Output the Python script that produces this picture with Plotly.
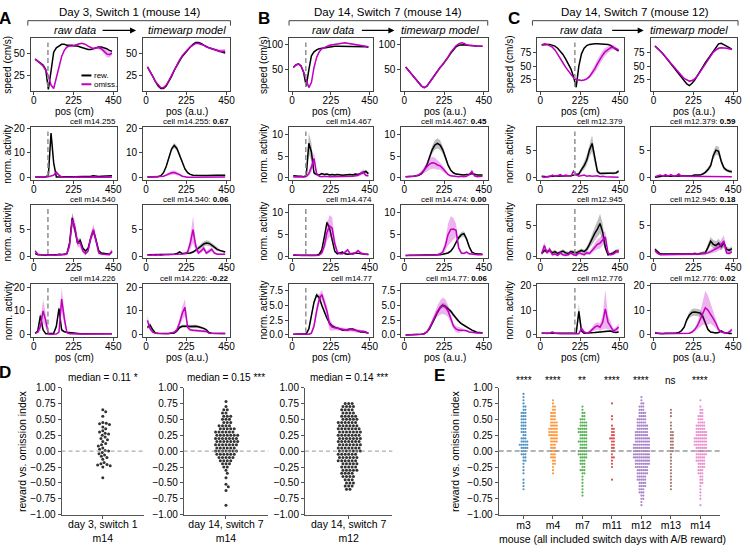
import plotly.graph_objects as go

W, H = 750, 552
FONT = "Liberation Sans, Arial, sans-serif"
REW_COL = "#000000"
OM_COL = "#c000c0"
REW_FILL = "rgba(110,110,110,0.45)"
OM_FILL = "rgba(200,0,200,0.30)"
AX_COL = "#444444"

# sample positions along the track (cm / a.u.)
pos = [7.5, 22.5, 37.5, 52.5, 67.5, 82.5, 97.5, 112.5, 127.5, 142.5,
       157.5, 172.5, 187.5, 202.5, 217.5, 232.5, 247.5, 262.5, 277.5, 292.5,
       307.5, 322.5, 337.5, 352.5, 367.5, 382.5, 397.5, 412.5, 427.5, 442.5]

# ---------------- panel A (day 3, switch 1, mouse 14) ----------------
A_spd_raw_rew = [44, 42, 40, 37, 32, 9, 30, 52, 57, 59,
                 61, 61, 60, 60, 60, 59, 59, 58, 57, 56,
                 55, 55, 56, 57, 58, 58, 57, 56, 54, 53]
A_spd_raw_om = [44, 42, 39, 36, 31, 24, 14, 10, 22, 36,
                47, 54, 58, 59, 59, 60, 61, 62, 62, 61,
                59, 57, 56, 57, 57, 56, 53, 50, 49, 51]
A_spd_raw_om_sem = [0.5, 0.5, 0.5, 0.5, 0.5, 0.6, 0.8, 1, 1, 1,
                    1, 0.8, 0.8, 0.8, 0.8, 0.8, 0.8, 0.8, 0.8, 0.8,
                    1, 1, 1.2, 1.5, 2, 2.5, 3.5, 4, 3.5, 2.5]
A_spd_tw_rew = [35, 30, 24, 18, 13, 10, 10, 13, 18, 24,
                31, 37, 42, 47, 51, 55, 58, 61, 63, 63,
                62, 60, 58, 57, 56, 55, 54, 53, 52, 51]
A_spd_tw_om = [35, 30, 24, 18, 14, 11, 11, 14, 19, 25,
               32, 38, 43, 48, 52, 55, 58, 60, 62, 62,
               61, 60, 58, 57, 56, 55, 54, 53, 53, 53]
A_spd_tw_om_sem = [0.5, 0.5, 0.5, 0.5, 0.5, 0.5, 0.5, 0.5, 0.5, 0.5,
                   0.5, 0.5, 0.5, 0.5, 0.5, 0.5, 0.5, 0.5, 0.5, 0.5,
                   0.6, 0.6, 0.7, 0.8, 1.0, 1.2, 1.5, 2.0, 2.5, 2.5]

A_r2_raw_rew = [0.3, 0.2, 0.3, 0.3, 0.3, 1.0, 18.0, 6.0, 0.3, 0.2,
                0.3, 0.4, 0.3, 0.3, 0.4, 0.4, 0.4, 0.5, 0.5, 0.4,
                0.5, 0.6, 0.8, 0.6, 0.5, 0.6, 0.7, 0.6, 0.7, 0.8]
A_r2_raw_om = [0.4, 0.3, 0.4, 0.3, 0.3, 0.4, 0.6, 1.0, 2.2, 1.0,
               0.3, 0.2, 0.2, 0.3, 0.2, 0.3, 0.2, 0.2, 0.3, 0.2,
               0.2, 0.3, 0.2, 0.3, 0.2, 0.3, 0.2, 0.3, 0.2, 0.3]
A_r2_raw_om_sem = [0.1, 0.1, 0.1, 0.1, 0.1, 0.1, 0.2, 0.4, 0.6, 0.4,
                   0.1, 0.1, 0.1, 0.1, 0.1, 0.1, 0.1, 0.1, 0.1, 0.1,
                   0.1, 0.1, 0.1, 0.1, 0.1, 0.1, 0.1, 0.1, 0.1, 0.1]
A_r2_tw_rew = [0.3, 0.3, 0.3, 0.3, 0.4, 0.8, 2.0, 4.5, 8.0, 11.5,
               13.0, 11.8, 9.0, 6.0, 3.5, 2.0, 1.3, 1.0, 0.9, 0.9,
               0.9, 0.9, 0.9, 1.0, 1.0, 1.0, 1.0, 1.0, 1.0, 1.0]
A_r2_tw_rew_sem = [0.1, 0.1, 0.1, 0.1, 0.1, 0.2, 0.4, 0.6, 0.8, 0.9,
                   1.0, 1.0, 0.9, 0.7, 0.5, 0.3, 0.2, 0.2, 0.2, 0.2,
                   0.2, 0.2, 0.2, 0.2, 0.2, 0.2, 0.2, 0.2, 0.2, 0.2]
A_r2_tw_om = [0.3, 0.3, 0.3, 0.3, 0.3, 0.4, 0.6, 1.0, 1.6, 2.0,
              2.1, 1.8, 1.2, 0.6, 0.3, 0.2, 0.2, 0.2, 0.3, 0.2,
              0.2, 0.3, 0.3, 0.4, 0.3, 0.3, 0.3, 0.3, 0.3, 0.3]
A_r2_tw_om_sem = [0.1, 0.1, 0.1, 0.1, 0.1, 0.2, 0.3, 0.5, 0.7, 0.8,
                  0.8, 0.7, 0.5, 0.3, 0.1, 0.1, 0.1, 0.1, 0.1, 0.1,
                  0.1, 0.1, 0.1, 0.1, 0.1, 0.1, 0.1, 0.1, 0.1, 0.1]

A_r3_raw_rew = [0.5, 0.3, 0.3, 0.2, 0.2, 0.3, 0.3, 0.3, 0.3, 0.2,
                0.3, 0.4, 0.5, 2.5, 7.2, 5.0, 2.5, 3.0, 1.5, 1.0,
                1.5, 3.5, 4.8, 3.0, 1.0, 0.6, 0.5, 0.5, 0.4, 0.8]
A_r3_raw_rew_sem = [0.1, 0.1, 0.1, 0.1, 0.1, 0.1, 0.1, 0.1, 0.1, 0.1,
                    0.1, 0.1, 0.2, 0.6, 1.0, 0.8, 0.5, 0.5, 0.3, 0.2,
                    0.3, 0.6, 0.6, 0.5, 0.2, 0.1, 0.1, 0.1, 0.1, 0.2]
A_r3_raw_om = [1.0, 0.4, 0.3, 0.3, 0.2, 0.3, 0.2, 0.3, 0.2, 0.4,
               0.3, 0.3, 0.5, 2.0, 6.8, 5.5, 2.5, 2.5, 1.0, 0.5,
               1.0, 3.5, 5.0, 3.0, 0.6, 0.4, 0.4, 0.3, 0.3, 1.0]
A_r3_raw_om_sem = [0.4, 0.2, 0.1, 0.1, 0.1, 0.1, 0.1, 0.1, 0.1, 0.2,
                   0.1, 0.1, 0.3, 0.8, 1.2, 1.2, 0.8, 0.8, 0.4, 0.3,
                   0.4, 0.9, 1.0, 0.8, 0.3, 0.2, 0.2, 0.1, 0.2, 0.4]
A_r3_tw_rew = [0.3, 0.3, 0.3, 0.3, 0.3, 0.3, 0.3, 0.4, 0.3, 0.4,
               0.4, 0.5, 0.8, 0.5, 0.5, 0.5, 0.6, 0.8, 1.1, 1.5,
               1.9, 2.3, 2.5, 2.4, 2.1, 1.7, 1.3, 1.1, 0.9, 0.8]
A_r3_tw_rew_sem = [0.1, 0.1, 0.1, 0.1, 0.1, 0.1, 0.1, 0.1, 0.1, 0.1,
                   0.1, 0.1, 0.2, 0.1, 0.1, 0.1, 0.2, 0.2, 0.3, 0.4,
                   0.5, 0.5, 0.5, 0.5, 0.4, 0.4, 0.3, 0.2, 0.2, 0.2]
A_r3_tw_om = [0.3, 0.2, 0.3, 0.2, 0.3, 0.2, 0.3, 0.3, 0.3, 0.3,
              0.4, 0.4, 0.4, 0.4, 0.5, 0.8, 2.5, 5.0, 2.0, 0.6,
              1.0, 1.5, 0.6, 1.0, 1.3, 0.6, 0.4, 0.4, 0.4, 0.4]
A_r3_tw_om_sem = [0.1, 0.1, 0.1, 0.1, 0.1, 0.1, 0.1, 0.1, 0.1, 0.1,
                  0.1, 0.1, 0.1, 0.1, 0.2, 0.4, 1.2, 2.5, 1.0, 0.3,
                  0.4, 0.5, 0.3, 0.4, 0.4, 0.2, 0.1, 0.1, 0.1, 0.1]

A_r4_raw_rew = [0.5, 1.5, 8.0, 2.0, 0.3, 0.3, 0.3, 0.5, 3.5, 11.0,
                2.0, 1.2, 1.0, 0.8, 0.6, 0.4, 0.4, 0.3, 0.3, 0.3,
                0.3, 0.3, 0.3, 0.3, 0.3, 0.3, 0.3, 0.3, 0.3, 0.3]
A_r4_raw_rew_sem = [0.1, 0.3, 1.5, 0.8, 0.1, 0.1, 0.1, 0.2, 1.0, 1.5,
                    0.8, 0.3, 0.2, 0.2, 0.1, 0.1, 0.1, 0.1, 0.1, 0.1,
                    0.1, 0.1, 0.1, 0.1, 0.1, 0.1, 0.1, 0.1, 0.1, 0.1]
A_r4_raw_om = [0.5, 1.0, 3.5, 10.0, 6.0, 0.2, 0.1, 0.1, 0.2, 1.0,
               15.0, 7.0, 0.8, 0.3, 0.2, 0.2, 0.2, 0.2, 0.2, 0.2,
               0.2, 0.2, 0.2, 0.2, 0.2, 0.2, 0.2, 0.2, 0.2, 0.3]
A_r4_raw_om_sem = [0.1, 0.4, 2.0, 5.0, 3.0, 0.1, 0.1, 0.1, 0.1, 0.5,
                   5.0, 3.0, 0.4, 0.1, 0.1, 0.1, 0.1, 0.1, 0.1, 0.1,
                   0.1, 0.1, 0.1, 0.1, 0.1, 0.1, 0.1, 0.1, 0.1, 0.1]
A_r4_tw_rew = [3.0, 4.0, 2.0, 0.6, 0.5, 0.4, 0.4, 0.4, 0.4, 0.5,
               0.6, 1.5, 3.0, 3.5, 3.6, 3.5, 3.4, 3.6, 3.5, 3.3,
               3.0, 2.6, 2.0, 0.8, 0.5, 0.4, 0.4, 0.4, 0.4, 0.4]
A_r4_tw_rew_sem = [0.8, 1.0, 0.6, 0.2, 0.1, 0.1, 0.1, 0.1, 0.1, 0.2,
                   0.2, 0.3, 0.5, 0.6, 0.7, 0.7, 0.7, 0.7, 0.7, 0.6,
                   0.5, 0.4, 0.3, 0.2, 0.1, 0.1, 0.1, 0.1, 0.1, 0.1]
A_r4_tw_om = [6.0, 2.5, 1.0, 0.5, 0.4, 0.3, 0.3, 0.3, 0.4, 0.6,
              1.0, 2.0, 5.0, 9.0, 11.5, 3.0, 2.0, 1.8, 1.6, 1.5,
              1.5, 1.4, 1.3, 0.5, 0.4, 0.4, 0.4, 0.4, 0.4, 0.4]
A_r4_tw_om_sem = [2.0, 1.0, 0.4, 0.2, 0.1, 0.1, 0.1, 0.1, 0.2, 0.3,
                  0.5, 1.0, 1.8, 2.8, 3.5, 1.0, 0.6, 0.5, 0.5, 0.5,
                  0.5, 0.5, 0.5, 0.2, 0.1, 0.1, 0.1, 0.1, 0.1, 0.1]

# ---------------- panel B (day 14, switch 7, mouse 14) ----------------
B_spd_raw_rew = [55, 60, 62, 58, 45, 18, 50, 78, 86, 90,
                 92, 93, 94, 95, 96, 96, 97, 97, 97, 97,
                 97, 97, 97, 97, 97, 96, 96, 96, 96, 95]
B_spd_raw_om = [55, 60, 62, 58, 46, 28, 15, 25, 55, 75,
                86, 92, 95, 97, 99, 100, 101, 102, 103, 104,
                104, 103, 102, 101, 100, 99, 98, 97, 96, 96]
B_spd_raw_om_sem = [1, 1, 1, 1, 1, 1.5, 1.5, 2, 2.5, 2.5,
                    2, 1.5, 1, 1, 1, 1, 1, 1, 1, 1,
                    1, 1, 1, 1, 1, 1, 1, 1, 1, 1]
B_spd_tw_rew = [56, 50, 44, 38, 31, 24, 18, 15, 18, 25,
                33, 41, 48, 55, 61, 67, 75, 83, 90, 96,
                99, 100, 100, 99, 99, 98, 98, 97, 97, 97]
B_spd_tw_om = [56, 50, 44, 38, 31, 24, 18, 15, 18, 25,
               33, 41, 48, 55, 61, 68, 76, 85, 92, 98,
               102, 104, 103, 100, 99, 98, 97, 97, 97, 97]

B_r2_raw_rew = [0.5, 0.4, 0.4, 0.4, 0.3, 0.5, 8.0, 6.0, 1.2, 0.8,
                0.7, 1.0, 0.8, 0.9, 0.7, 0.8, 0.7, 0.8, 0.7, 0.6,
                0.7, 0.8, 0.8, 0.7, 0.9, 0.8, 1.0, 1.2, 1.5, 1.0]
B_r2_raw_rew_sem = [0.1, 0.1, 0.1, 0.1, 0.1, 0.3, 2.5, 2.0, 0.5, 0.2,
                    0.2, 0.2, 0.2, 0.2, 0.2, 0.2, 0.2, 0.2, 0.2, 0.2,
                    0.2, 0.2, 0.2, 0.2, 0.2, 0.2, 0.3, 0.3, 0.4, 0.3]
B_r2_raw_om = [0.2, 0.3, 0.2, 0.3, 0.2, 0.3, 1.0, 2.5, 4.5, 1.0,
               0.4, 0.3, 0.4, 0.3, 0.3, 0.3, 0.3, 0.4, 0.3, 0.3,
               0.3, 0.3, 0.3, 0.4, 0.5, 0.6, 1.0, 1.4, 0.6, 0.5]
B_r2_raw_om_sem = [0.1, 0.1, 0.1, 0.1, 0.1, 0.1, 0.5, 1.2, 1.5, 0.4,
                   0.1, 0.1, 0.1, 0.1, 0.1, 0.1, 0.1, 0.1, 0.1, 0.1,
                   0.1, 0.1, 0.1, 0.1, 0.2, 0.3, 0.5, 0.6, 0.3, 0.2]
B_r2_tw_rew = [0.3, 0.3, 0.4, 0.4, 0.5, 0.6, 1.0, 1.8, 3.0, 4.8,
               6.5, 7.6, 8.0, 7.6, 6.5, 4.8, 3.0, 1.8, 1.2, 0.9,
               0.8, 0.7, 0.7, 0.8, 0.8, 1.0, 0.8, 0.7, 0.7, 0.7]
B_r2_tw_rew_sem = [0.1, 0.1, 0.1, 0.1, 0.1, 0.1, 0.2, 0.3, 0.5, 0.7,
                   0.9, 1.1, 1.2, 1.1, 0.9, 0.7, 0.5, 0.3, 0.2, 0.2,
                   0.1, 0.1, 0.1, 0.1, 0.1, 0.2, 0.1, 0.1, 0.1, 0.1]
B_r2_tw_om = [0.3, 0.3, 0.4, 0.4, 0.5, 0.7, 1.2, 1.8, 2.5, 3.2,
              3.5, 3.4, 3.0, 2.8, 2.2, 1.5, 0.8, 0.5, 0.4, 0.3,
              0.3, 0.4, 0.3, 0.4, 0.8, 1.5, 0.5, 0.3, 0.3, 0.4]
B_r2_tw_om_sem = [0.1, 0.1, 0.1, 0.1, 0.2, 0.3, 0.5, 0.7, 1.0, 1.3,
                  1.4, 1.3, 1.1, 0.9, 0.7, 0.5, 0.3, 0.2, 0.1, 0.1,
                  0.1, 0.1, 0.1, 0.1, 0.3, 0.5, 0.2, 0.1, 0.1, 0.1]

B_r3_raw_rew = [0.3, 0.3, 0.2, 0.2, 0.2, 0.2, 0.2, 0.2, 0.2, 0.3,
                0.5, 1.5, 4.5, 7.8, 6.5, 3.5, 1.2, 0.6, 0.8, 1.0,
                0.6, 0.5, 0.6, 0.7, 0.8, 0.7, 0.6, 0.6, 0.5, 0.5]
B_r3_raw_rew_sem = [0.1, 0.1, 0.1, 0.1, 0.1, 0.1, 0.1, 0.1, 0.1, 0.1,
                    0.1, 0.3, 0.5, 0.6, 0.6, 0.5, 0.3, 0.1, 0.1, 0.2,
                    0.1, 0.1, 0.1, 0.1, 0.1, 0.1, 0.1, 0.1, 0.1, 0.1]
B_r3_raw_om = [0.4, 0.3, 0.3, 0.2, 0.2, 0.2, 0.2, 0.1, 0.2, 0.2,
               0.3, 0.8, 2.5, 5.5, 7.0, 6.5, 3.0, 1.0, 0.6, 0.6,
               1.0, 1.5, 0.6, 0.5, 0.8, 1.3, 0.8, 0.6, 0.5, 0.4]
B_r3_raw_om_sem = [0.1, 0.1, 0.1, 0.1, 0.1, 0.1, 0.1, 0.1, 0.1, 0.1,
                   0.1, 0.3, 1.0, 2.0, 2.5, 2.5, 1.2, 0.4, 0.2, 0.2,
                   0.3, 0.4, 0.2, 0.2, 0.3, 0.4, 0.3, 0.2, 0.2, 0.1]
B_r3_tw_rew = [0.2, 0.3, 0.3, 0.3, 0.3, 0.3, 0.3, 0.3, 0.3, 0.3,
               0.3, 0.3, 0.3, 0.4, 0.5, 0.6, 0.8, 1.2, 2.0, 3.2,
               4.3, 5.0, 5.2, 4.0, 2.2, 1.0, 0.7, 0.6, 0.6, 0.5]
B_r3_tw_rew_sem = [0.1, 0.1, 0.1, 0.1, 0.1, 0.1, 0.1, 0.1, 0.1, 0.1,
                   0.1, 0.1, 0.1, 0.1, 0.1, 0.1, 0.2, 0.2, 0.3, 0.4,
                   0.5, 0.6, 0.6, 0.5, 0.3, 0.2, 0.1, 0.1, 0.1, 0.1]
B_r3_tw_om = [0.2, 0.2, 0.2, 0.2, 0.2, 0.2, 0.2, 0.3, 0.3, 0.3,
              0.3, 0.3, 0.4, 0.6, 1.0, 2.5, 5.0, 6.2, 6.3, 6.0,
              2.0, 0.8, 0.7, 1.0, 0.6, 0.5, 0.5, 0.4, 0.4, 0.4]
B_r3_tw_om_sem = [0.1, 0.1, 0.1, 0.1, 0.1, 0.1, 0.1, 0.1, 0.1, 0.1,
                  0.1, 0.1, 0.2, 0.3, 0.5, 1.2, 2.5, 3.0, 2.5, 1.5,
                  0.6, 0.3, 0.2, 0.3, 0.2, 0.1, 0.1, 0.1, 0.1, 0.1]

B_r4_raw_rew = [0.1, 0.1, 0.1, 0.1, 0.1, 0.2, 1.0, 3.0, 5.5, 6.7,
                6.3, 5.0, 3.8, 2.8, 2.0, 1.5, 1.3, 1.2, 1.0, 0.8,
                0.8, 0.9, 1.0, 1.0, 0.8, 0.6, 0.5, 0.5, 0.4, 0.3]
B_r4_raw_rew_sem = [0.05, 0.05, 0.05, 0.05, 0.05, 0.1, 0.2, 0.3, 0.4, 0.4,
                    0.4, 0.3, 0.3, 0.2, 0.2, 0.2, 0.1, 0.1, 0.1, 0.1,
                    0.1, 0.1, 0.1, 0.1, 0.1, 0.1, 0.1, 0.1, 0.1, 0.1]
B_r4_raw_om = [0.1, 0.1, 0.1, 0.1, 0.1, 0.1, 0.1, 0.3, 1.5, 4.0,
               6.0, 6.8, 5.5, 4.0, 1.8, 1.3, 1.2, 1.1, 1.0, 0.9,
               0.8, 0.8, 0.9, 0.8, 0.7, 0.6, 0.6, 0.6, 0.5, 0.2]
B_r4_raw_om_sem = [0.05, 0.05, 0.05, 0.05, 0.05, 0.05, 0.1, 0.2, 0.5, 0.7,
                   0.8, 0.8, 0.8, 0.9, 1.0, 0.6, 0.4, 0.3, 0.3, 0.3,
                   0.3, 0.3, 0.3, 0.3, 0.3, 0.3, 0.2, 0.2, 0.2, 0.1]
B_r4_tw_rew = [0.0, 0.0, 0.0, 0.0, 0.0, 0.1, 0.1, 0.2, 0.5, 1.0,
               1.8, 2.8, 3.8, 4.6, 5.0, 4.8, 4.4, 4.0, 3.4, 2.8,
               2.3, 1.9, 1.6, 1.3, 1.0, 0.8, 0.6, 0.4, 0.4, 0.3]
B_r4_tw_rew_sem = [0.02, 0.02, 0.02, 0.02, 0.02, 0.05, 0.05, 0.1, 0.1, 0.2,
                   0.2, 0.3, 0.3, 0.4, 0.4, 0.4, 0.4, 0.3, 0.3, 0.3,
                   0.2, 0.2, 0.2, 0.2, 0.1, 0.1, 0.1, 0.1, 0.1, 0.1]
B_r4_tw_om = [0.0, 0.0, 0.0, 0.0, 0.0, 0.1, 0.1, 0.2, 0.5, 1.2,
              2.2, 3.2, 4.0, 4.6, 4.9, 4.7, 4.0, 2.8, 1.5, 1.0,
              0.8, 0.8, 0.8, 0.7, 0.5, 0.4, 0.3, 0.3, 0.3, 0.3]
B_r4_tw_om_sem = [0.02, 0.02, 0.02, 0.02, 0.02, 0.05, 0.05, 0.1, 0.2, 0.3,
                  0.5, 0.6, 0.9, 1.2, 1.4, 1.3, 1.0, 0.7, 0.5, 0.5,
                  0.5, 0.3, 0.2, 0.2, 0.1, 0.1, 0.1, 0.1, 0.1, 0.1]

# ---------------- panel C (day 14, switch 7, mouse 12) ----------------
C_spd_raw_rew = [88, 89, 89, 89, 88, 86, 82, 77, 71, 63,
                 54, 45, 31, 12, 50, 72, 82, 87, 89, 90,
                 90, 90, 90, 90, 89, 89, 87, 83, 80, 77]
C_spd_raw_om = [88, 90, 89, 87, 84, 79, 72, 64, 56, 48,
                41, 34, 29, 26, 25, 24, 25, 27, 31, 37,
                45, 54, 63, 70, 76, 80, 83, 84, 82, 79]
C_spd_raw_om_sem = [1, 1, 1, 1, 1, 1, 1, 1, 1, 1,
                    1, 1, 1, 1, 1, 1, 1.5, 2, 3, 5,
                    7, 8, 8, 8, 7, 6, 5, 4, 3, 2]
C_spd_tw_rew = [86, 82, 77, 72, 66, 60, 54, 48, 42, 36,
                30, 24, 18, 15, 19, 25, 32, 40, 48, 56,
                63, 70, 78, 85, 90, 91, 89, 86, 83, 80]
C_spd_tw_om = [86, 82, 77, 72, 67, 61, 55, 49, 43, 38,
               33, 28, 25, 23, 24, 27, 32, 39, 47, 55,
               62, 69, 75, 79, 82, 83, 83, 82, 81, 80]
C_spd_tw_om_sem = [1, 1, 1, 1, 1, 1, 1, 1, 1, 1,
                   1, 1, 1, 1, 1, 1, 1, 1, 1, 1.2,
                   1.5, 1.5, 2, 2, 2, 2, 1.5, 1.5, 1.5, 1.5]

C_r2_raw_rew = [0.3, 0.2, 0.2, 0.3, 0.3, 0.3, 0.4, 0.3, 0.3, 0.4,
                0.4, 0.4, 0.5, 0.6, 0.7, 1.5, 2.2, 3.2, 5.0, 6.2,
                3.5, 1.2, 0.8, 0.8, 0.8, 0.9, 0.9, 0.8, 0.9, 1.2]
C_r2_raw_rew_sem = [0.1, 0.1, 0.1, 0.1, 0.1, 0.1, 0.1, 0.1, 0.1, 0.1,
                    0.1, 0.1, 0.1, 0.2, 0.3, 0.5, 0.7, 0.9, 1.2, 1.5,
                    1.0, 0.4, 0.2, 0.2, 0.2, 0.2, 0.2, 0.2, 0.2, 0.3]
C_r2_raw_om = [0.2, 0.1, 0.2, 0.2, 0.5, 0.3, 0.4, 0.6, 0.3, 0.5,
               0.4, 0.3, 1.2, 0.6, 0.3, 0.4, 0.5, 0.3, 0.4, 0.3,
               0.3, 0.4, 0.2, 0.3, 0.2, 0.2, 0.2, 0.2, 0.2, 0.1]
C_r2_tw_rew = [0.1, 0.2, 0.3, 0.3, 0.4, 0.3, 0.3, 0.3, 0.4, 0.3,
               0.4, 0.4, 0.4, 0.4, 0.4, 0.5, 0.5, 0.5, 0.7, 1.0,
               1.5, 2.2, 4.0, 5.0, 4.8, 3.0, 1.8, 1.4, 1.2, 1.1]
C_r2_tw_rew_sem = [0.1, 0.1, 0.1, 0.1, 0.1, 0.1, 0.1, 0.1, 0.1, 0.1,
                   0.1, 0.1, 0.1, 0.1, 0.1, 0.1, 0.1, 0.1, 0.2, 0.3,
                   0.4, 0.5, 0.7, 0.8, 0.8, 0.6, 0.4, 0.3, 0.3, 0.3]
C_r2_tw_om = [0.2, 0.3, 0.5, 0.3, 0.6, 0.3, 0.6, 0.3, 0.4, 0.7,
              0.3, 0.3, 0.3, 0.3, 0.3, 0.3, 0.3, 0.3, 0.3, 0.2,
              0.2, 0.2, 0.2, 0.2, 0.2, 0.2, 0.2, 0.2, 0.2, 0.2]

C_r3_raw_rew = [0.5, 1.0, 0.8, 1.0, 0.6, 0.8, 0.5, 0.7, 0.9, 0.6,
                0.5, 0.8, 0.7, 0.6, 0.8, 1.0, 0.8, 1.2, 2.0, 3.0,
                3.8, 4.5, 5.4, 4.0, 1.5, 0.3, 0.4, 0.6, 0.9, 0.8]
C_r3_raw_rew_sem = [0.3, 0.3, 0.3, 0.3, 0.3, 0.3, 0.3, 0.3, 0.3, 0.3,
                    0.3, 0.3, 0.3, 0.3, 0.3, 0.3, 0.3, 0.4, 0.6, 0.8,
                    1.0, 1.3, 1.6, 1.4, 0.6, 0.2, 0.2, 0.3, 0.3, 0.3]
C_r3_raw_om = [0.5, 1.8, 0.6, 1.2, 0.3, 0.4, 0.2, 0.6, 0.3, 0.2,
               0.3, 0.6, 0.3, 0.2, 0.6, 0.4, 0.3, 0.6, 0.5, 1.0,
               1.6, 2.0, 2.2, 2.8, 3.2, 0.6, 0.3, 0.4, 0.7, 1.0]
C_r3_raw_om_sem = [0.3, 0.6, 0.3, 0.4, 0.2, 0.2, 0.2, 0.3, 0.2, 0.2,
                   0.2, 0.3, 0.2, 0.2, 0.3, 0.2, 0.2, 0.3, 0.3, 0.4,
                   0.6, 0.8, 0.9, 1.0, 1.0, 0.4, 0.2, 0.2, 0.3, 0.4]
C_r3_tw_rew = [1.2, 0.8, 0.4, 0.4, 0.4, 0.3, 0.3, 0.4, 0.4, 0.4,
               0.4, 0.4, 0.4, 0.4, 0.4, 0.5, 0.4, 0.5, 0.5, 0.6,
               1.5, 2.5, 2.0, 1.8, 2.2, 1.6, 2.2, 1.2, 1.0, 1.3]
C_r3_tw_rew_sem = [0.3, 0.3, 0.2, 0.2, 0.2, 0.2, 0.2, 0.2, 0.2, 0.2,
                   0.2, 0.2, 0.2, 0.2, 0.2, 0.2, 0.2, 0.2, 0.3, 0.4,
                   0.6, 0.7, 0.7, 0.7, 0.7, 0.6, 0.6, 0.5, 0.4, 0.4]
C_r3_tw_om = [1.0, 0.5, 0.3, 0.3, 0.3, 0.3, 0.3, 0.3, 0.3, 0.3,
              0.3, 0.3, 0.3, 0.3, 0.3, 0.3, 0.3, 0.4, 0.5, 0.5,
              0.6, 0.8, 1.0, 1.2, 1.5, 2.0, 2.5, 0.6, 0.5, 0.8]
C_r3_tw_om_sem = [0.3, 0.2, 0.1, 0.1, 0.1, 0.1, 0.1, 0.1, 0.1, 0.1,
                  0.1, 0.1, 0.1, 0.1, 0.1, 0.1, 0.1, 0.2, 0.2, 0.2,
                  0.3, 0.3, 0.4, 0.5, 0.6, 0.8, 1.0, 0.3, 0.2, 0.3]

C_r4_raw_rew = [0.5, 0.6, 0.5, 0.5, 0.5, 0.5, 0.4, 0.4, 0.4, 0.4,
                0.4, 0.4, 0.4, 0.5, 9.5, 1.5, 0.5, 0.5, 0.6, 0.7,
                0.8, 0.9, 1.0, 1.2, 1.3, 1.5, 1.4, 1.0, 0.8, 1.0]
C_r4_raw_rew_sem = [0.2, 0.2, 0.2, 0.2, 0.2, 0.2, 0.2, 0.2, 0.2, 0.2,
                    0.2, 0.2, 0.2, 0.3, 3.0, 0.8, 0.2, 0.2, 0.2, 0.2,
                    0.2, 0.2, 0.3, 0.3, 0.3, 0.3, 0.3, 0.3, 0.3, 0.3]
C_r4_raw_om = [0.6, 0.4, 0.4, 0.5, 1.0, 0.5, 0.3, 0.3, 0.3, 0.3,
               0.3, 0.2, 0.2, 0.2, 0.3, 2.5, 1.0, 0.5, 1.0, 2.0,
               3.0, 3.5, 3.0, 5.0, 10.5, 5.0, 3.5, 1.5, 2.0, 3.0]
C_r4_raw_om_sem = [0.3, 0.2, 0.2, 0.3, 0.5, 0.3, 0.1, 0.1, 0.1, 0.1,
                   0.1, 0.1, 0.1, 0.1, 0.2, 1.0, 0.5, 0.3, 0.5, 1.0,
                   1.5, 1.5, 1.5, 3.0, 8.0, 3.0, 1.5, 1.0, 1.0, 1.5]
C_r4_tw_rew = [0.5, 0.4, 0.4, 0.4, 0.5, 0.4, 0.4, 0.5, 0.6, 0.8,
               1.5, 3.0, 6.0, 8.0, 9.0, 9.2, 9.0, 8.8, 7.5, 4.5,
               2.0, 1.0, 0.7, 0.6, 0.8, 1.5, 0.8, 0.5, 0.4, 0.4]
C_r4_tw_rew_sem = [0.2, 0.2, 0.2, 0.2, 0.2, 0.2, 0.2, 0.2, 0.2, 0.3,
                   0.4, 0.5, 0.8, 1.2, 1.5, 1.5, 1.5, 1.5, 1.3, 1.0,
                   0.6, 0.3, 0.2, 0.2, 0.3, 0.4, 0.3, 0.2, 0.2, 0.2]
C_r4_tw_om = [0.8, 0.5, 0.3, 0.3, 0.3, 0.3, 0.3, 0.3, 0.3, 0.3,
              0.3, 0.3, 0.4, 0.5, 1.0, 2.0, 3.5, 6.0, 9.0, 11.0,
              10.0, 8.5, 6.5, 4.5, 2.0, 1.0, 0.6, 0.5, 1.0, 2.0]
C_r4_tw_om_sem = [0.3, 0.2, 0.1, 0.1, 0.1, 0.1, 0.1, 0.1, 0.1, 0.1,
                  0.1, 0.1, 0.2, 0.3, 0.5, 0.8, 1.5, 3.0, 5.0, 7.0,
                  6.0, 4.0, 3.0, 2.0, 1.0, 0.5, 0.3, 0.3, 0.5, 0.8]

# ---------------- panel D: reward vs. omission index, example sessions ----------------
D1_vals = [0.65, 0.62, 0.55, 0.45, 0.44, 0.43, 0.42, 0.38, 0.35, 0.32,
           0.30, 0.28, 0.27, 0.25, 0.22, 0.20, 0.18, 0.15, 0.12, 0.10,
           0.08, 0.05, 0.03, 0.01, 0.00, -0.02, -0.04, -0.06, -0.08, -0.10,
           -0.13, -0.18, -0.20, -0.21, -0.22, -0.23, -0.25, -0.42]
D2_levels = [0.78, 0.70, 0.65, 0.60, 0.55, 0.50, 0.45, 0.40, 0.35, 0.30,
             0.25, 0.20, 0.15, 0.10, 0.05, 0.00, -0.05, -0.10, -0.15, -0.20,
             -0.25, -0.30, -0.35, -0.42, -0.52, -0.56, -0.62, -0.85]
D2_counts = [1, 1, 2, 2, 3, 3, 3, 4, 5, 6,
             7, 7, 7, 7, 6, 7, 6, 5, 4, 3,
             2, 1, 1, 1, 1, 1, 1, 1]
D3_levels = [0.75, 0.70, 0.65, 0.60, 0.55, 0.50, 0.45, 0.40, 0.35, 0.30,
             0.25, 0.20, 0.15, 0.10, 0.05, 0.00, -0.05, -0.10, -0.15, -0.20,
             -0.25, -0.30, -0.35, -0.40, -0.45, -0.50, -0.55, -0.60]
D3_counts = [3, 4, 4, 4, 5, 5, 6, 6, 7, 7,
             7, 7, 7, 7, 7, 7, 6, 6, 6, 5,
             5, 5, 4, 4, 3, 3, 3, 2]
D_xlabels = ["day 3, switch 1<br>m14", "day 14, switch 7<br>m14", "day 14, switch 7<br>m12"]
D_medians = ["median = 0.11 *", "median = 0.15 ***", "median = 0.14 ***"]

# ---------------- panel E: all mice ----------------
E_mice = ["m3", "m4", "m7", "m11", "m12", "m13", "m14"]
E_stars = ["****", "****", "**", "****", "****", "ns", "****"]
E_colors = ["#1f77b4", "#ff7f0e", "#2ca02c", "#d62728", "#9467bd", "#8c564b", "#e377c2"]
E_levels = [0.95, 0.90, 0.85, 0.80, 0.75, 0.70, 0.65, 0.60, 0.55, 0.50,
            0.45, 0.40, 0.35, 0.30, 0.25, 0.20, 0.15, 0.10, 0.05, 0.00,
            -0.05, -0.10, -0.15, -0.20, -0.25, -0.30, -0.35, -0.40, -0.45, -0.50,
            -0.55, -0.60, -0.65, -0.70, -0.75, -0.80, -0.85, -0.90]
E_m3 = [0, 1, 1, 1, 1, 2, 2, 3, 3, 3,
        3, 3, 3, 3, 2, 3, 4, 5, 4, 3,
        3, 2, 2, 1, 1, 1, 1, 0, 1, 1,
        1, 1, 0, 0, 0, 0, 0, 0]
E_m4 = [0, 0, 0, 1, 1, 2, 2, 3, 3, 3,
        4, 4, 5, 5, 5, 4, 4, 3, 3, 4,
        3, 3, 2, 2, 1, 1, 1, 0, 0, 0,
        0, 0, 0, 0, 0, 0, 0, 0]
E_m7 = [0, 0, 0, 0, 0, 1, 1, 2, 2, 3,
        4, 4, 5, 5, 4, 4, 5, 4, 4, 5,
        5, 4, 3, 3, 2, 3, 2, 1, 1, 1,
        1, 1, 1, 1, 0, 0, 0, 0]
E_m11 = [0, 0, 0, 0, 1, 0, 0, 0, 1, 1,
         0, 1, 2, 2, 2, 3, 2, 2, 2, 2,
         1, 2, 1, 1, 1, 0, 0, 0, 1, 0,
         0, 0, 0, 0, 0, 0, 0, 0]
E_m12 = [0, 0, 1, 1, 2, 3, 3, 4, 4, 5,
         5, 6, 6, 7, 7, 8, 8, 9, 9, 9,
         9, 9, 8, 8, 7, 6, 6, 5, 5, 4,
         4, 3, 3, 2, 2, 1, 1, 0]
E_m13 = [0, 0, 0, 0, 0, 0, 1, 1, 1, 0,
         1, 1, 1, 2, 2, 2, 2, 2, 2, 2,
         1, 1, 1, 1, 1, 1, 1, 1, 1, 1,
         1, 1, 0, 0, 0, 0, 0, 0]
E_m14 = [0, 0, 0, 1, 0, 1, 2, 2, 3, 3,
         4, 5, 5, 6, 6, 7, 7, 7, 6, 6,
         6, 5, 5, 4, 4, 3, 3, 2, 2, 2,
         1, 1, 1, 1, 1, 0, 1, 0]
E_counts = [E_m3, E_m4, E_m7, E_m11, E_m12, E_m13, E_m14]

# ---------------- layout helpers ----------------
def px(x):
    return x / W


def py(y):
    return 1 - y / H


fig = go.Figure()
lay = {}
annotations = []
shapes = []
n_ax = [0]


def new_axes(x0, x1, y0, y1):
    n_ax[0] += 1
    s = "" if n_ax[0] == 1 else str(n_ax[0])
    lay["xaxis" + s] = dict(domain=[px(x0), px(x1)], anchor="y" + s)
    lay["yaxis" + s] = dict(domain=[py(y1), py(y0)], anchor="x" + s)
    return "x" + s, "y" + s, lay["xaxis" + s], lay["yaxis" + s]


def text(x, y, t, size=10, xanchor="center", yanchor="middle", angle=0, **kw):
    annotations.append(dict(x=px(x), y=py(y), xref="paper", yref="paper", text=t,
                            showarrow=False, xanchor=xanchor, yanchor=yanchor,
                            textangle=angle, font=dict(size=size, color="black"), **kw))


def line(x0, y0, x1, y1, color=AX_COL, width=1, dash=None):
    shapes.append(dict(type="line", xref="paper", yref="paper", x0=px(x0), y0=py(y0),
                       x1=px(x1), y1=py(y1), line=dict(color=color, width=width, dash=dash)))


def add_curve(xa, ya, mean, sem, col, fill):
    if sem is not None:
        up = [m + s for m, s in zip(mean, sem)]
        lo = [m - s for m, s in zip(mean, sem)]
        fig.add_trace(go.Scatter(x=pos + pos[::-1], y=up + lo[::-1], fill="toself",
                                 fillcolor=fill, line=dict(width=0), mode="lines",
                                 hoverinfo="skip", showlegend=False, xaxis=xa, yaxis=ya))
    fig.add_trace(go.Scatter(x=pos, y=mean, mode="lines", line=dict(color=col, width=1.5),
                             showlegend=False, xaxis=xa, yaxis=ya))


box_style = dict(showline=True, mirror=True, linecolor=AX_COL, linewidth=1, ticks="outside",
                 ticklen=3, tickwidth=1, tickcolor=AX_COL, showgrid=False, zeroline=False,
                 tickfont=dict(size=10, color="black"))

rows_px = [(33, 87), (124, 178), (203, 258), (284, 338)]

panels = [
    dict(letter="A", lx=5, title="Day 3, Switch 1 (mouse 14)", raw=(31, 118), tw=(144, 232),
         bracket=(28, 232), ylab_x=8, dash=80, raw_lbl=76, tw_lbl=188, arrow=(102, 137),
         rows=[
             (A_spd_raw_rew, None, A_spd_raw_om, A_spd_raw_om_sem,
              A_spd_tw_rew, None, A_spd_tw_om, A_spd_tw_om_sem, [7, 68], [25, 50], None, None, None),
             (A_r2_raw_rew, None, A_r2_raw_om, A_r2_raw_om_sem,
              A_r2_tw_rew, A_r2_tw_rew_sem, A_r2_tw_om, A_r2_tw_om_sem, [-1, 20.3], [0, 10, 20], None, "m14.255", "0.67"),
             (A_r3_raw_rew, A_r3_raw_rew_sem, A_r3_raw_om, A_r3_raw_om_sem,
              A_r3_tw_rew, A_r3_tw_rew_sem, A_r3_tw_om, A_r3_tw_om_sem, [-0.4, 9.7], [0, 5], None, "m14.540", "0.06"),
             (A_r4_raw_rew, A_r4_raw_rew_sem, A_r4_raw_om, A_r4_raw_om_sem,
              A_r4_tw_rew, A_r4_tw_rew_sem, A_r4_tw_om, A_r4_tw_om_sem, [-0.9, 21.5], [0, 10, 20], None, "m14.226", "-0.22"),
         ]),
    dict(letter="B", lx=266, title="Day 14, Switch 7 (mouse 14)", raw=(291, 376), tw=(404, 491),
         bracket=(291, 491), ylab_x=265, dash=80, raw_lbl=335, tw_lbl=443, arrow=(363, 397),
         rows=[
             (B_spd_raw_rew, None, B_spd_raw_om, B_spd_raw_om_sem,
              B_spd_tw_rew, None, B_spd_tw_om, None, [8, 113], [50, 100], None, None, None),
             (B_r2_raw_rew, B_r2_raw_rew_sem, B_r2_raw_om, B_r2_raw_om_sem,
              B_r2_tw_rew, B_r2_tw_rew_sem, B_r2_tw_om, B_r2_tw_om_sem, [-0.5, 11.7], [0, 5, 10], None, "m14.467", "0.45"),
             (B_r3_raw_rew, B_r3_raw_rew_sem, B_r3_raw_om, B_r3_raw_om_sem,
              B_r3_tw_rew, B_r3_tw_rew_sem, B_r3_tw_om, B_r3_tw_om_sem, [-0.45, 11.9], [0, 5, 10], None, "m14.474", "0.00"),
             (B_r4_raw_rew, B_r4_raw_rew_sem, B_r4_raw_om, B_r4_raw_om_sem,
              B_r4_tw_rew, B_r4_tw_rew_sem, B_r4_tw_om, B_r4_tw_om_sem, [-0.3, 8.6], [0, 2.5, 5, 7.5], ".1f", "m14.77", "0.06"),
         ]),
    dict(letter="C", lx=517, title="Day 14, Switch 7 (mouse 12)", raw=(541, 628), tw=(655, 742),
         bracket=(536, 743), ylab_x=513, dash=195, raw_lbl=585, tw_lbl=694, arrow=(615, 648),
         rows=[
             (C_spd_raw_rew, None, C_spd_raw_om, C_spd_raw_om_sem,
              C_spd_tw_rew, None, C_spd_tw_om, C_spd_tw_om_sem, [5, 100], [25, 50, 75], None, None, None),
             (C_r2_raw_rew, C_r2_raw_rew_sem, C_r2_raw_om, None,
              C_r2_tw_rew, C_r2_tw_rew_sem, C_r2_tw_om, None, [-0.4, 9.1], [0, 5], None, "m12.379", "0.59"),
             (C_r3_raw_rew, C_r3_raw_rew_sem, C_r3_raw_om, C_r3_raw_om_sem,
              C_r3_tw_rew, C_r3_tw_rew_sem, C_r3_tw_om, C_r3_tw_om_sem, [-0.3, 8.5], [0, 5], None, "m12.945", "0.18"),
             (C_r4_raw_rew, C_r4_raw_rew_sem, C_r4_raw_om, C_r4_raw_om_sem,
              C_r4_tw_rew, C_r4_tw_rew_sem, C_r4_tw_om, C_r4_tw_om_sem, [-0.9, 20.8], [0, 10, 20], None, "m12.776", "0.02"),
         ]),
]

for p in panels:
    # header: title, bracket, raw -> timewarp
    text(p["lx"], 13, "<b>%s</b>" % p["letter"], size=17)
    bx0, bx1 = p["bracket"]
    text((bx0 + bx1) / 2, 6, p["title"], size=11.5)
    line(bx0, 15, bx1, 15)
    line(bx0, 15, bx0, 20)
    line(bx1, 15, bx1, 20)
    text(p["raw_lbl"], 25, "<i>raw data</i>", size=11)
    text(p["tw_lbl"], 25, "<i>timewarp model</i>", size=11)
    a0, a1 = p["arrow"]
    annotations.append(dict(x=px(a1), y=py(25), xref="paper", yref="paper", ax=-(a1 - a0), ay=0,
                            axref="pixel", ayref="pixel", text="", showarrow=True, arrowhead=2,
                            arrowsize=1, arrowwidth=1.2, arrowcolor="black"))

    for ri, row in enumerate(p["rows"]):
        (rr, rrs, ro, ros, tr, trs, to, tos, yr, yt, yfmt, cell, score) = row
        y0, y1 = rows_px[ri]
        for k, (x0, x1) in enumerate([p["raw"], p["tw"]]):
            xa, ya, xax, yax = new_axes(x0, x1, y0, y1)
            xax.update(box_style, range=[-17, 472], tickvals=[0, 225, 450], ticklabelstandoff=-3)
            yax.update(box_style, range=yr, tickvals=yt)
            if yfmt:
                yax.update(tickformat=yfmt)
            if k == 0:
                add_curve(xa, ya, rr, rrs, REW_COL, REW_FILL)
                add_curve(xa, ya, ro, ros, OM_COL, OM_FILL)
                shapes.append(dict(type="line", xref=xa, yref=ya + " domain", x0=p["dash"], x1=p["dash"],
                                   y0=0.08, y1=0.92, line=dict(color="#909090", width=1.5, dash="5px,3px")))
            else:
                add_curve(xa, ya, tr, trs, REW_COL, REW_FILL)
                add_curve(xa, ya, to, tos, OM_COL, OM_FILL)
            if cell is not None:
                lbl = "cell %s" % cell if k == 0 else "cell %s: <b>%s</b>" % (cell, score)
                text(x1, y0, lbl, size=8, xanchor="right", yanchor="bottom", borderpad=0)
            if ri == 0 or ri == 3:
                xt = "pos (cm)" if k == 0 else "pos (a.u.)"
                text((x0 + x1) / 2, y1 + 21, xt, size=10, borderpad=0)
        ytitle = "speed (cm/s)" if ri == 0 else "norm. activity"
        text(p["ylab_x"], (y0 + y1) / 2, ytitle, size=10, angle=-90)

# legend in panel A speed plot
line(82, 71, 92, 71, color=REW_COL, width=2)
line(82, 80, 92, 80, color=OM_COL, width=2)
text(94, 71, "rew.", size=8, xanchor="left", borderpad=0)
text(94, 80, "omiss.", size=8, xanchor="left", borderpad=0)


# ---------------- swarm helper ----------------
def beeswarm(vals, ypx, diam):
    placed = []
    out = []
    for v in vals:
        y = v * ypx
        near = [(qx, qy) for qx, qy in placed if abs(qy - y) < diam]
        cands = [0.0]
        for qx, qy in near:
            dx = (diam ** 2 - (qy - y) ** 2) ** 0.5
            cands += [qx + dx, qx - dx]
        cands.sort(key=abs)
        chosen = cands[-1]
        for c in cands:
            if all((c - qx) ** 2 + (y - qy) ** 2 >= diam ** 2 - 1e-6 for qx, qy in near):
                chosen = c
                break
        placed.append((chosen, y))
        out.append(chosen)
    return out


def expand(levels, counts):
    vals = []
    for v, c in zip(levels, counts):
        vals += [v] * c
    return vals


Y_PX = 65.0  # pixels per index unit in D and E
D_TOP, D_BOT = 390, 520
idx_ticks = [1.0, 0.75, 0.5, 0.25, 0.0, -0.25, -0.5, -0.75, -1.0]
spine = dict(showline=True, mirror=False, linecolor="#555555", linewidth=1, ticks="outside",
             ticklen=3, tickwidth=1, tickcolor="#555555", showgrid=False, zeroline=False,
             tickfont=dict(size=10, color="black"))

text(5, 375, "<b>D</b>", size=17)
d_sets = [D1_vals, expand(D2_levels, D2_counts), expand(D3_levels, D3_counts)]
d_cols = [(62, 145), (185, 270), (307, 395)]
for i, vals in enumerate(d_sets):
    x0, x1 = d_cols[i]
    xa, ya, xax, yax = new_axes(x0, x1, D_TOP, D_BOT)
    xax.update(spine, range=[-0.5, 0.5], tickvals=[0], ticktext=[D_xlabels[i]],
               tickfont=dict(size=10.5, color="black"), ticklabelstandoff=-3)
    yax.update(spine, range=[-1, 1], tickvals=idx_ticks, tickformat=".2f")
    svals = sorted(vals, reverse=True)
    offs = beeswarm(svals, Y_PX, 3.5)
    xs = [o / (x1 - x0) for o in offs]
    fig.add_trace(go.Scatter(x=xs, y=svals, mode="markers", showlegend=False,
                             marker=dict(size=3.0, color="#333333", line=dict(width=0)),
                             xaxis=xa, yaxis=ya))
    shapes.append(dict(type="line", xref=xa + " domain", yref=ya, x0=0, x1=1, y0=0, y1=0,
                       line=dict(color="#999999", width=1, dash="4px,3px")))
    text((x0 + x1) / 2, 380, D_medians[i], size=10)
text(22, 455, "reward vs. omission index", size=10.5, angle=-90)

# ---------------- panel E ----------------
text(442, 378, "<b>E</b>", size=17)
E_X0, E_X1 = 502, 725
e_range = [-0.843, 6.67]
e_ppu = (E_X1 - E_X0) / (e_range[1] - e_range[0])
xa, ya, xax, yax = new_axes(E_X0, E_X1, D_TOP, D_BOT)
xax.update(spine, range=e_range, tickvals=list(range(len(E_mice))), ticktext=E_mice,
           tickfont=dict(size=10.5, color="black"), ticklabelstandoff=-2)
yax.update(spine, range=[-1, 1], tickvals=idx_ticks, tickformat=".2f")
for i, counts in enumerate(E_counts):
    vals = expand(E_levels, counts)
    offs = beeswarm(vals, Y_PX, 1.9)
    xs = [i + o / e_ppu for o in offs]
    fig.add_trace(go.Scatter(x=xs, y=vals, mode="markers", showlegend=False,
                             marker=dict(size=2.2, color=E_colors[i], opacity=0.8, line=dict(width=0)),
                             xaxis=xa, yaxis=ya))
    text(E_X0 + (i - e_range[0]) * e_ppu, 383, E_stars[i], size=10)
shapes.append(dict(type="line", xref=xa + " domain", yref=ya, x0=0, x1=1, y0=0, y1=0,
                   line=dict(color="#999999", width=1.5, dash="5px,3px")))
text(458, 455, "reward vs. omission index", size=10.5, angle=-90)
text((E_X0 + E_X1) / 2 + 3, 545, "mouse (all included switch days with A/B reward)", size=10.5, borderpad=0)

fig.update_layout(
    width=W, height=H,
    margin=dict(l=0, r=0, t=0, b=0),
    paper_bgcolor="white", plot_bgcolor="white",
    font=dict(family=FONT, size=10, color="black"),
    showlegend=False,
    annotations=annotations,
    shapes=shapes,
    **lay
)

# the page body has a default 8px margin; remove it so the figure sits at the window origin
fig.write_html("out.html", config={"displayModeBar": False},
               post_script="document.body.style.margin='0px';document.body.style.overflow='hidden';")
